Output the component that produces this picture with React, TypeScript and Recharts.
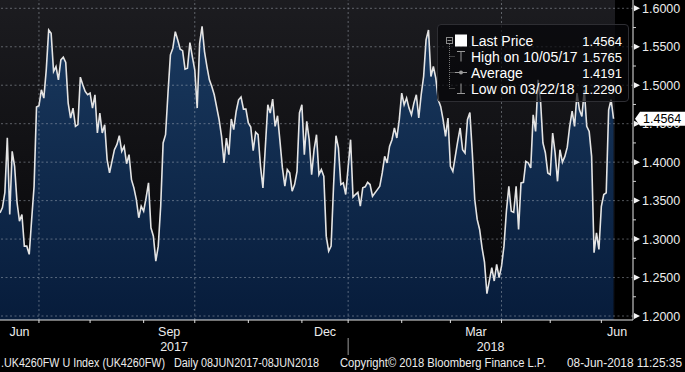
import { AreaChart, Area, XAxis, YAxis, ReferenceLine, Legend } from "recharts";

// UK bank holidays, no fixing on these days
const holidays = [
  "2017-08-28", "2017-12-25", "2017-12-26", "2018-01-01",
  "2018-03-30", "2018-04-02", "2018-05-07", "2018-05-28",
];

const dates = [
  "2017-06-09", "2017-06-12", "2017-06-13", "2017-06-14", "2017-06-15", "2017-06-16",
  "2017-06-19", "2017-06-20", "2017-06-21", "2017-06-22", "2017-06-23",
  "2017-06-26", "2017-06-27", "2017-06-28", "2017-06-29", "2017-06-30",
  "2017-07-03", "2017-07-04", "2017-07-05", "2017-07-06", "2017-07-07",
  "2017-07-10", "2017-07-11", "2017-07-12", "2017-07-13", "2017-07-14",
  "2017-07-17", "2017-07-18", "2017-07-19", "2017-07-20", "2017-07-21",
  "2017-07-24", "2017-07-25", "2017-07-26", "2017-07-27", "2017-07-28",
  "2017-07-31", "2017-08-01", "2017-08-02", "2017-08-03", "2017-08-04",
  "2017-08-07", "2017-08-08", "2017-08-09", "2017-08-10", "2017-08-11",
  "2017-08-15", "2017-08-16", "2017-08-17", "2017-08-18",
  "2017-08-21", "2017-08-22", "2017-08-23", "2017-08-24", "2017-08-25",
  "2017-08-29", "2017-08-30", "2017-08-31", "2017-09-01",
  "2017-09-04", "2017-09-05", "2017-09-06", "2017-09-07", "2017-09-08",
  "2017-09-11", "2017-09-12", "2017-09-13", "2017-09-14", "2017-09-15",
  "2017-09-18", "2017-09-19", "2017-09-20", "2017-09-21", "2017-09-22",
  "2017-09-25", "2017-09-26", "2017-09-27", "2017-09-28", "2017-09-29",
  "2017-10-02", "2017-10-03", "2017-10-04", "2017-10-05", "2017-10-06",
  "2017-10-09", "2017-10-10", "2017-10-11", "2017-10-12",
  "2017-10-16", "2017-10-17", "2017-10-18", "2017-10-19", "2017-10-20",
  "2017-10-23", "2017-10-24", "2017-10-25", "2017-10-26", "2017-10-27",
  "2017-10-30", "2017-10-31", "2017-11-01", "2017-11-02", "2017-11-03",
  "2017-11-06", "2017-11-07", "2017-11-08", "2017-11-09", "2017-11-10",
  "2017-11-13", "2017-11-14", "2017-11-15", "2017-11-16", "2017-11-17",
  "2017-11-20", "2017-11-21", "2017-11-22", "2017-11-23", "2017-11-24",
  "2017-11-27", "2017-11-28", "2017-11-29", "2017-11-30", "2017-12-01",
  "2017-12-04", "2017-12-05", "2017-12-06", "2017-12-07", "2017-12-08",
  "2017-12-11", "2017-12-12", "2017-12-13", "2017-12-14", "2017-12-15",
  "2017-12-18", "2017-12-19", "2017-12-20", "2017-12-21", "2017-12-22",
  "2017-12-27", "2017-12-28", "2017-12-29",
  "2018-01-03", "2018-01-04", "2018-01-05",
  "2018-01-08", "2018-01-09", "2018-01-10", "2018-01-11", "2018-01-12",
  "2018-01-15", "2018-01-16", "2018-01-18", "2018-01-19",
  "2018-01-22", "2018-01-23", "2018-01-24", "2018-01-25", "2018-01-26",
  "2018-01-29", "2018-01-30", "2018-01-31", "2018-02-01", "2018-02-02",
  "2018-02-05", "2018-02-06", "2018-02-07", "2018-02-08", "2018-02-09",
  "2018-02-12", "2018-02-13", "2018-02-14", "2018-02-15", "2018-02-16",
  "2018-02-19", "2018-02-20", "2018-02-21", "2018-02-22", "2018-02-23",
  "2018-02-26", "2018-02-27", "2018-02-28", "2018-03-01", "2018-03-02",
  "2018-03-05", "2018-03-06", "2018-03-07", "2018-03-08", "2018-03-09",
  "2018-03-12", "2018-03-13", "2018-03-14", "2018-03-15", "2018-03-16",
  "2018-03-19", "2018-03-20", "2018-03-21", "2018-03-22",
  "2018-03-26", "2018-03-27", "2018-03-28", "2018-03-29",
  "2018-04-03", "2018-04-04", "2018-04-05", "2018-04-06",
  "2018-04-09", "2018-04-10", "2018-04-11", "2018-04-12", "2018-04-13",
  "2018-04-16", "2018-04-17", "2018-04-18", "2018-04-19", "2018-04-20",
  "2018-04-23", "2018-04-24", "2018-04-25", "2018-04-26", "2018-04-27",
  "2018-04-30", "2018-05-01", "2018-05-02", "2018-05-03", "2018-05-04",
  "2018-05-08", "2018-05-09", "2018-05-10", "2018-05-11",
  "2018-05-14", "2018-05-15", "2018-05-16", "2018-05-17", "2018-05-18",
  "2018-05-21", "2018-05-22", "2018-05-23", "2018-05-24", "2018-05-25",
  "2018-05-29", "2018-05-30", "2018-05-31", "2018-06-01",
  "2018-06-04", "2018-06-05", "2018-06-06", "2018-06-07", "2018-06-08",
];

const prices = [
  1.3341, 1.3410, 1.3605, 1.4318, 1.3319, 1.4140,
  1.3946, 1.3475, 1.3233, 1.3319, 1.2908,
  1.2908, 1.2801, 1.3255, 1.3687, 1.4716,
  1.4733, 1.4941, 1.4833, 1.5200, 1.5719,
  1.5676, 1.5178, 1.5243, 1.5070, 1.5330,
  1.5365, 1.5295, 1.4768, 1.4574, 1.4703,
  1.4465, 1.4487, 1.5105, 1.5006, 1.4919,
  1.4876, 1.4898, 1.4703, 1.4876, 1.4379,
  1.4638, 1.4379, 1.4487, 1.4033, 1.3860,
  1.4162, 1.4227, 1.4344, 1.4140,
  1.4205, 1.3980, 1.4098, 1.3773, 1.3666,
  1.3514, 1.3277, 1.3427, 1.3362,
  1.3536, 1.3731, 1.3147, 1.3038, 1.2714,
  1.2908, 1.3427, 1.4249, 1.4357, 1.4898,
  1.5395, 1.5482, 1.5697, 1.5589, 1.5469,
  1.5450, 1.5209, 1.5222, 1.5554, 1.5373,
  1.5200, 1.4703, 1.5546, 1.5765, 1.5437,
  1.5243, 1.5070, 1.4984, 1.4876,
  1.4552, 1.4335, 1.3990, 1.4314, 1.4098,
  1.4561, 1.4422, 1.4659, 1.4811, 1.4846,
  1.4690, 1.4690, 1.4509, 1.4457, 1.4150,
  1.4390, 1.4357, 1.3946, 1.3666, 1.4205,
  1.4746, 1.4639, 1.4820, 1.4465, 1.4603,
  1.4270, 1.3925, 1.3687, 1.3903, 1.3860,
  1.3622, 1.3709, 1.3881, 1.4639, 1.4746,
  1.4098, 1.4530, 1.4292, 1.3838, 1.4162,
  1.4357, 1.3838, 1.3903, 1.3816, 1.3038,
  1.2843, 1.2908, 1.3687, 1.4344, 1.4185,
  1.3709, 1.3731, 1.3579,
  1.4292, 1.3546, 1.3579,
  1.3608, 1.3427, 1.3666, 1.3679, 1.3738,
  1.3709, 1.3557, 1.3643, 1.3687,
  1.3860, 1.4075, 1.3990, 1.4205, 1.4292,
  1.4444, 1.4314, 1.4552, 1.4898, 1.4746,
  1.4833, 1.4703, 1.4616, 1.4768, 1.4876,
  1.4574, 1.4876, 1.5113, 1.5589, 1.5719,
  1.5113, 1.5243, 1.5092, 1.4811, 1.4724,
  1.4552, 1.4335, 1.4574, 1.3946, 1.3881,
  1.4075, 1.4270, 1.4444, 1.4162, 1.4119,
  1.4552, 1.4646, 1.4119, 1.3514, 1.3255,
  1.3125, 1.2887, 1.2700, 1.2290,
  1.2629, 1.2455, 1.2672, 1.2500,
  1.2649, 1.2908, 1.3362, 1.3687,
  1.3362, 1.3349, 1.3687, 1.3125, 1.3730,
  1.3738, 1.4011, 1.3990, 1.3925, 1.4616,
  1.4400, 1.5070, 1.4811, 1.4249, 1.4123,
  1.3860, 1.3838, 1.4379, 1.4123, 1.3751,
  1.4162, 1.4000, 1.4075, 1.4195,
  1.4465, 1.4663, 1.4465, 1.4898, 1.4681,
  1.4594, 1.4940, 1.4465, 1.4400, 1.4075,
  1.2823, 1.3081, 1.2865, 1.3427,
  1.3579, 1.3601, 1.4681, 1.4811, 1.4564,
];

const priceTicks = [1.2, 1.25, 1.3, 1.35, 1.4, 1.45, 1.5, 1.55, 1.6];
const minorTicks = [1.225, 1.275, 1.325, 1.375, 1.425, 1.475, 1.525, 1.575];
const monthNames = ["Jan", "Feb", "Mar", "Apr", "May", "Jun", "Jul", "Aug", "Sep", "Oct", "Nov", "Dec"];
const labelledMonths = ["Jun", "Sep", "Dec", "Mar"];

const lastPrice = 1.4564;
const legendRows = [
  { label: "Last Price", value: "1.4564" },
  { label: "High on 10/05/17", value: "1.5765" },
  { label: "Average", value: "1.4191" },
  { label: "Low on 03/22/18", value: "1.2290" },
];
const footer = [
  ".UK4260FW U Index (UK4260FW)",
  "Daily 08JUN2017-08JUN2018",
  "Copyright\u00a9 2018 Bloomberg Finance L.P.",
  "08-Jun-2018 11:25:35",
];

const FONT = "'Liberation Sans', Arial, sans-serif";
const TEXT = "#ececec";

// trading-day calendar: Bloomberg plots one slot per fixing day
const buildCalendar = (start: string, end: string) => {
  const out: string[] = [];
  const d = new Date(start + "T00:00:00Z");
  const last = new Date(end + "T00:00:00Z");
  while (d <= last) {
    const iso = d.toISOString().slice(0, 10);
    const wd = d.getUTCDay();
    if (wd !== 0 && wd !== 6 && !holidays.includes(iso)) out.push(iso);
    d.setUTCDate(d.getUTCDate() + 1);
  }
  return out;
};

const calendar = buildCalendar("2017-06-08", "2018-06-08");
const dayIndex = new Map(calendar.map((d, i) => [d, i]));

const rows = dates
  .map((d, i) => ({ date: d, t: dayIndex.get(d), price: prices[i] }))
  .filter((r) => r.t !== undefined);

const X_MIN = 1;
const X_MAX = 261;

const monthStarts: { t: number; month: number; year: number }[] = [];
calendar.forEach((d, i) => {
  if (i === 0 || d.slice(0, 7) !== calendar[i - 1].slice(0, 7)) {
    monthStarts.push({ t: i, month: +d.slice(5, 7) - 1, year: +d.slice(0, 4) });
  }
});

const tickMarks = monthStarts.filter((m) => m.t >= X_MIN).map((m) => m.t);
const quarterLines = monthStarts.filter((m) => m.t >= X_MIN && m.month % 3 === 0).map((m) => m.t);

const monthLabels = new Map<number, string>();
monthStarts.forEach((m, i) => {
  const name = monthNames[m.month];
  if (!labelledMonths.includes(name)) return;
  const from = Math.max(m.t, X_MIN);
  const to = i + 1 < monthStarts.length ? monthStarts[i + 1].t : X_MAX;
  monthLabels.set((from + to) / 2, name);
});

const yearLabels = new Map<number, string>();
const yearSeparators: number[] = [];
const years = Array.from(new Set(monthStarts.map((m) => m.year)));
years.forEach((y, i) => {
  const from = Math.max(monthStarts.find((m) => m.year === y)!.t, X_MIN);
  const next = monthStarts.find((m) => m.year === years[i + 1]);
  const to = next ? next.t : X_MAX;
  if (i > 0) yearSeparators.push(from);
  yearLabels.set((from + to) / 2, String(y));
});

const xTicks = [...tickMarks, ...monthLabels.keys(), ...yearLabels.keys()];

const TimeTick = ({ x, y, payload }: any) => {
  const v = payload.value;
  return (
    <g>
      {tickMarks.includes(v) && <line x1={x} x2={x} y1={y} y2={y + 3} stroke="#e0e0e0" />}
      {yearSeparators.includes(v) && <line x1={x} x2={x} y1={y + 18} y2={y + 35} stroke="#9a9a9a" />}
      {monthLabels.has(v) && (
        <text x={x} y={y + 16} textAnchor="middle" fontSize={12.5} fill={TEXT} fontFamily={FONT}>
          {monthLabels.get(v)}
        </text>
      )}
      {yearLabels.has(v) && (
        <text x={x} y={y + 31} textAnchor="middle" fontSize={12.5} fill={TEXT} fontFamily={FONT}>
          {yearLabels.get(v)}
        </text>
      )}
    </g>
  );
};

const PriceTick = ({ x, y, payload }: any) => {
  const v = payload.value;
  if (v === lastPrice) {
    return (
      <g>
        <polygon points={`${x + 2},${y} ${x + 7},${y - 7} ${x + 52},${y - 7} ${x + 52},${y + 7} ${x + 7},${y + 7}`} fill="#ffffff" />
        <text x={x + 10} y={y + 4.5} fontSize={12.5} fill="#000" fontFamily={FONT}>{v.toFixed(4)}</text>
      </g>
    );
  }
  if (priceTicks.includes(v)) {
    return (
      <g>
        <polygon points={`${x + 1},${y - 3} ${x + 7},${y} ${x + 1},${y + 3}`} fill="#f4f4f4" />
        <text x={x + 9} y={y + 4.5} fontSize={12.5} fill={TEXT} fontFamily={FONT}>{v.toFixed(4)}</text>
      </g>
    );
  }
  return <line x1={x} x2={x + 3} y1={y} y2={y} stroke="#d0d0d0" />;
};

const LegendBox = () => (
  <div
    style={{
      position: "relative",
      width: 192,
      height: 78,
      boxSizing: "border-box",
      background: "rgba(6,6,8,0.7)",
      border: "1px solid #2e2e33",
      borderRadius: 4,
    }}
  >
    <svg width={192} height={78} style={{ position: "absolute", left: -1, top: -1 }}>
      <rect x={9.5} y={13.5} width={6} height={6} fill="none" stroke="#8a8a8a" />
      <line x1={10.5} x2={14.5} y1={16.5} y2={16.5} stroke="#8a8a8a" />
      <line x1={12.5} x2={12.5} y1={20} y2={64.5} stroke="#777" strokeDasharray="1 1" />
      {[32.5, 48.5, 64.5].map((cy) => (
        <line key={cy} x1={12.5} x2={18} y1={cy} y2={cy} stroke="#777" strokeDasharray="1 1" />
      ))}
      <rect x={18} y={10.5} width={12} height={12} fill="#fff" />
      <line x1={20} x2={28} y1={27.5} y2={27.5} stroke="#9a9a9a" />
      <line x1={24} x2={24} y1={27.5} y2={37.5} stroke="#9a9a9a" />
      <line x1={18} x2={30} y1={48.5} y2={48.5} stroke="#9a9a9a" />
      <circle cx={24} cy={48.5} r={2} fill="#9a9a9a" />
      <line x1={24} x2={24} y1={59.5} y2={69.5} stroke="#9a9a9a" />
      <line x1={20} x2={28} y1={69.5} y2={69.5} stroke="#9a9a9a" />
      {legendRows.map((r, i) => (
        <g key={r.label} fontFamily={FONT} fill="#fff">
          <text x={34} y={21.5 + i * 16} fontSize={14}>{r.label}</text>
          <text x={185} y={21.5 + i * 16} fontSize={13} textAnchor="end">{r.value}</text>
        </g>
      ))}
    </svg>
  </div>
);

const grid = { stroke: "rgba(185,190,200,0.45)", strokeDasharray: "2 2.5", strokeWidth: 1 };

export default function App() {
  return (
    <div style={{ position: "absolute", left: 0, top: 0, width: 685, height: 372, background: "#000", overflow: "hidden", fontFamily: FONT }}>
      <div style={{ position: "absolute", left: 0, top: 0, width: 615, height: 320, background: "linear-gradient(#1c1c20, #050507)" }} />
      <div style={{ position: "absolute", left: 0, top: 0 }}>
        <AreaChart width={685} height={372} data={rows} margin={{ top: 0, right: 0, bottom: 0, left: 0 }}>
          <defs>
            <linearGradient id="navyFill" gradientUnits="userSpaceOnUse" x1="0" y1="0" x2="0" y2="320">
              <stop offset="0%" stopColor="#1b3b61" />
              <stop offset="100%" stopColor="#071c3b" />
            </linearGradient>
          </defs>
          <XAxis
            dataKey="t"
            type="number"
            domain={[X_MIN, X_MAX]}
            ticks={xTicks}
            interval={0}
            height={52}
            tickSize={0}
            tickMargin={0}
            tickLine={false}
            axisLine={{ stroke: "#e6e6e6" }}
            tick={<TimeTick />}
          />
          <YAxis
            orientation="right"
            type="number"
            domain={[1.1948, 1.6108]}
            ticks={[...priceTicks, ...minorTicks, lastPrice]}
            interval={0}
            width={52}
            tickSize={0}
            tickMargin={0}
            tickLine={false}
            axisLine={{ stroke: "#e6e6e6" }}
            tick={<PriceTick />}
          />
          <Area
            type="linear"
            dataKey="price"
            stroke="#e4e4e4"
            strokeWidth={1.6}
            fill="url(#navyFill)"
            fillOpacity={1}
            dot={false}
            activeDot={false}
            isAnimationActive={false}
          />
          {priceTicks.map((v) => (
            <ReferenceLine key={v} y={v} {...grid} />
          ))}
          {quarterLines.map((t) => (
            <ReferenceLine key={t} x={t} {...grid} />
          ))}
          <Legend
            layout="vertical"
            align="center"
            verticalAlign="middle"
            content={<LegendBox />}
            wrapperStyle={{ left: 437, top: 24, width: 192, height: 78 }}
          />
        </AreaChart>
      </div>
      <svg width={685} height={372} style={{ position: "absolute", left: 0, top: 0, pointerEvents: "none" }}>
        <g fontFamily={FONT} fontSize={12} fill={TEXT}>
          <text x={1} y={367} textLength={164} lengthAdjust="spacingAndGlyphs">{footer[0]}</text>
          <text x={174} y={367} textLength={145} lengthAdjust="spacingAndGlyphs">{footer[1]}</text>
          <text x={340} y={367} textLength={206} lengthAdjust="spacingAndGlyphs">{footer[2]}</text>
          <text x={567} y={367} textLength={115} lengthAdjust="spacingAndGlyphs">{footer[3]}</text>
        </g>
      </svg>
    </div>
  );
}
